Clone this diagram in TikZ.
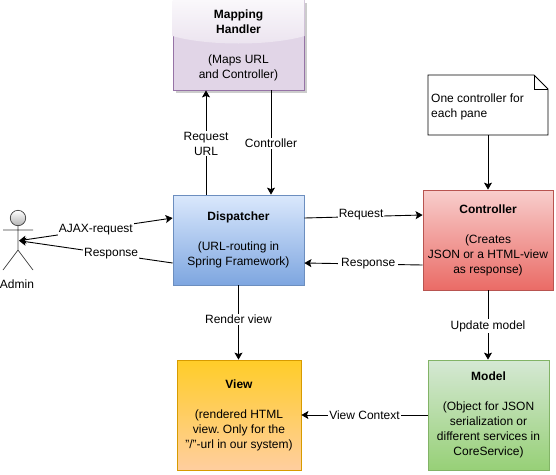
\documentclass[tikz,border=0pt]{standalone}
\usepackage{fontspec}
\setmainfont{Liberation Sans}
\usetikzlibrary{arrows.meta, shadows}
\frenchspacing

\tikzset{
  block/.style={draw, line width=0.8pt, align=center, minimum height=#1, inner sep=0pt, font=\fontsize{12}{15}\selectfont},
  block/.default=100pt,
  flow/.style={-{Stealth[length=7pt,width=8pt,inset=1.5pt]}, line width=0.9pt},
  flowboth/.style={{Stealth[length=7pt,width=8pt,inset=1.5pt]}-{Stealth[length=7pt,width=8pt,inset=1.5pt]}, line width=0.9pt},
  lbl/.style={fill=white, inner sep=1pt, align=center, font=\fontsize{12}{15}\selectfont},
  stick/.style={draw=black!75, line width=0.7pt},
}
\definecolor{mapfill}{HTML}{E1D5E7}
\definecolor{mapline}{HTML}{9673A6}
\definecolor{glasstop}{HTML}{FAF8FB}
\definecolor{glassend}{HTML}{EBE3EF}

\begin{document}
\begin{tikzpicture}[x=1pt, y=-1pt]
\useasboundingbox (0,0) rectangle (556,474);

% Boxes
\node[block=90pt, minimum width=131pt, fill=mapfill, draw=mapline,
  drop shadow={shadow xshift=3pt, shadow yshift=-3pt, fill=black!20, opacity=1}]
  (mapping) at (238.5,45) {};
\shade[top color=glasstop, bottom color=glassend] (172.5,0) -- (304.5,0) -- (304.5,36) .. controls (270,46) and (207,46) .. (172.5,36) -- cycle;
\node[align=center, font=\fontsize{12}{15}\selectfont] (mappingtext) at (238.5,45) {\textbf{Mapping}\\\textbf{Handler}\\[15pt](Maps URL\\and Controller)};
\node[block=90pt, minimum width=131pt, top color={rgb,255:red,218;green,232;blue,252}, bottom color={rgb,255:red,126;green,166;blue,224}, draw={rgb,255:red,108;green,142;blue,191}]
  (dispatcher) at (238.5,240) {\textbf{Dispatcher}\\[15pt](URL-routing in\\Spring Framework)};
\node[block=100pt, minimum width=130pt, top color={rgb,255:red,248;green,206;blue,204}, bottom color={rgb,255:red,234;green,107;blue,102}, draw={rgb,255:red,184;green,84;blue,80}]
  (controller) at (488,240) {\textbf{Controller}\\[15pt](Creates\\JSON or a HTML-view\\as response)};
\node[block=110pt, minimum width=124pt, top color={rgb,255:red,255;green,205;blue,40}, bottom color={rgb,255:red,255;green,206;blue,159}, draw={rgb,255:red,215;green,155;blue,0}]
  (view) at (239,415) {\textbf{View}\\[15pt](rendered HTML\\view. Only for the\\"/"-url in our system)};
\node[block=110pt, minimum width=121pt, top color={rgb,255:red,213;green,232;blue,212}, bottom color={rgb,255:red,151;green,208;blue,119}, draw={rgb,255:red,130;green,179;blue,102}]
  (model) at (488.5,415) {\textbf{Model}\\[15pt](Object for JSON\\serialization or\\different services in\\CoreService)};

% Note
\draw[line width=0.9pt, fill=white] (428,75) -- (534,75) -- (548,89) -- (548,135) -- (428,135) -- cycle;
\draw[line width=0.4pt] (534,75) -- (534,89) -- (548,89);
\coordinate (noteend) at (488,135);
\node[align=left, inner sep=0pt, anchor=west, font=\fontsize{12}{15}\selectfont] (note) at (431,106.5) {One controller for\\each pane};

% Admin
\draw[stick, top color=white, bottom color=black!30] (18,218) circle (7.7);
\draw[stick] (18,225.7) -- (18,250) (3,230) -- (33,230) (3,270) -- (18,250) -- (33,270);
\node[font=\fontsize{12}{15}\selectfont, inner sep=0pt] (adminlabel) at (17,284) {Admin};
\coordinate (admin) at (19,240.7);

% Connectors
\draw[flowboth] (admin) -- node[lbl, pos=0.5] {AJAX-request} ([yshift=22pt]dispatcher.west);
\draw[flow] ([yshift=-23pt]dispatcher.west) -- node[lbl, pos=0.4] {Response} (admin);
\draw[flow] ([xshift=-32.5pt]dispatcher.north) -- node[lbl, yshift=-1pt] {Request\\URL} ([xshift=-32.5pt]mapping.south);
\draw[flow] ([xshift=32.5pt]mapping.south) -- node[lbl, yshift=-1pt] {Controller} ([xshift=32.5pt]dispatcher.north);
\draw[flow] (dispatcher.south) -- node[lbl, yshift=3pt] {Render view} (dispatcher.south |- view.north);
\draw[flow] ([yshift=22pt]dispatcher.east) -- node[lbl, pos=0.48, yshift=2pt] {Request} ([yshift=25pt]controller.west);
\draw[flow] ([yshift=-25pt]controller.west) -- node[lbl, pos=0.46, inner xsep=3pt] {Response} ([yshift=-23pt]dispatcher.east);
\draw[flow] (noteend) -- (controller.north);
\draw[flow] (controller.south) -- node[lbl, yshift=-1pt] {Update model} (controller.south |- model.north);
\draw[flow] (model.west) -- node[lbl] {View Context} (view.east);

\end{tikzpicture}
\end{document}
